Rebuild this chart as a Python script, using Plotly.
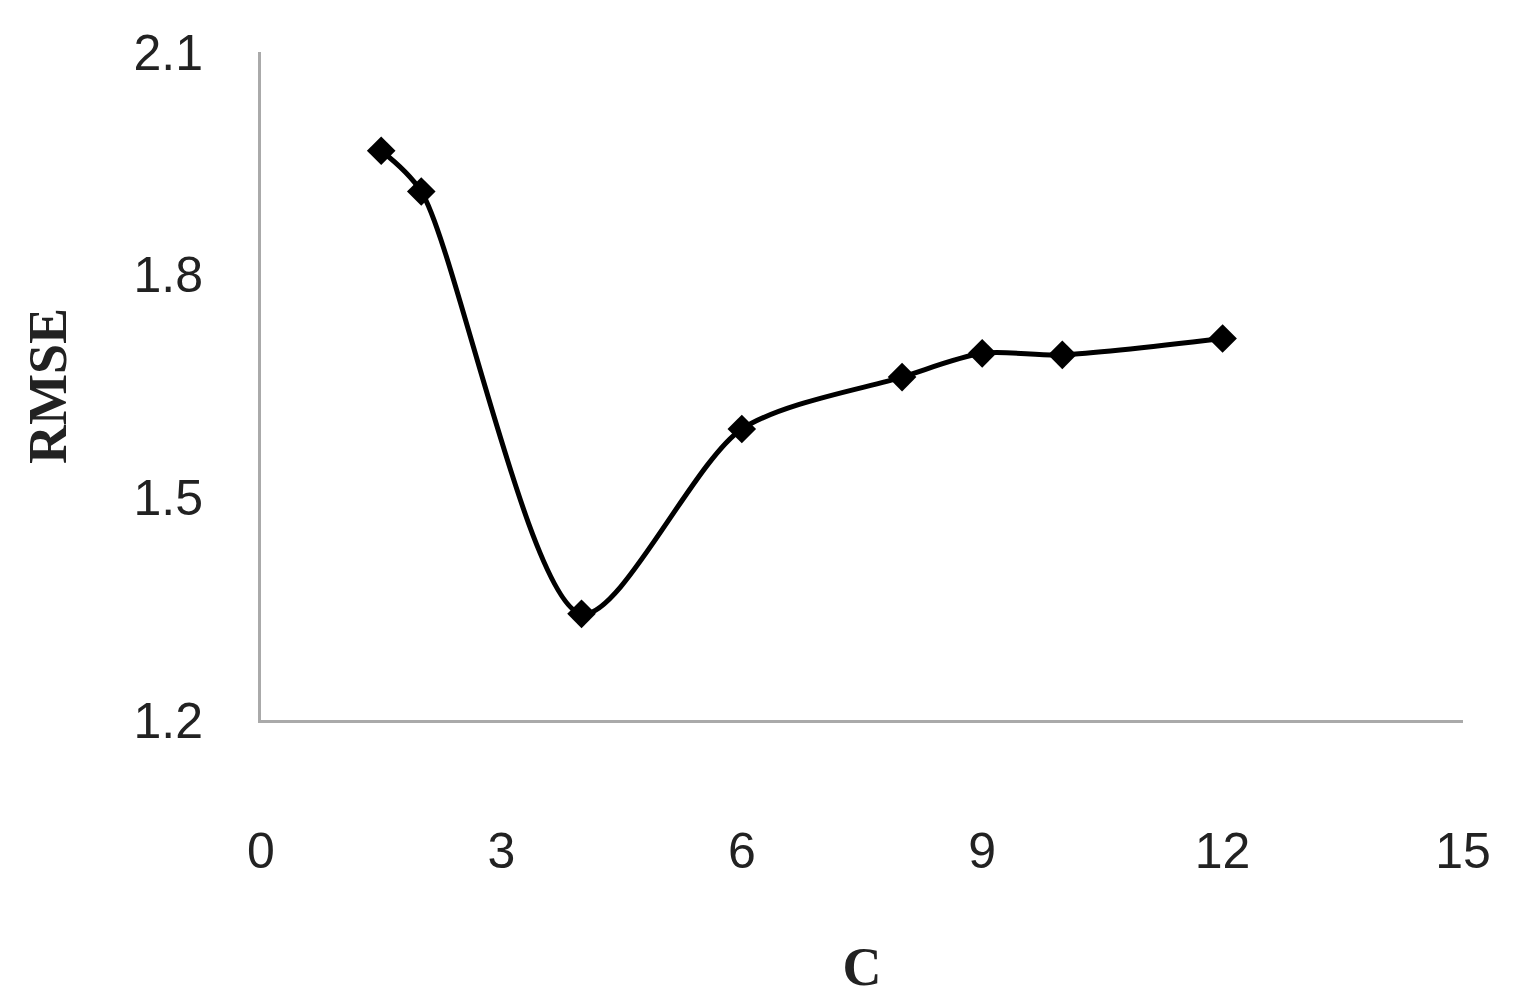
import plotly.graph_objects as go

c_values = [1.5, 2, 4, 6, 8, 9, 10, 12]
rmse_values = [1.967, 1.912, 1.343, 1.592, 1.662, 1.694, 1.692, 1.714]
x_ticks = [0, 3, 6, 9, 12, 15]
y_ticks = [1.2, 1.5, 1.8, 2.1]

fig = go.Figure(go.Scatter(
    x=c_values, y=rmse_values, mode="lines+markers",
    line=dict(color="black", width=5, shape="spline", smoothing=0.8),
    marker=dict(symbol="diamond", size=22, color="black"),
))
fig.update_layout(
    width=1518, height=1000, plot_bgcolor="white", paper_bgcolor="white",
    margin=dict(l=253, r=63, t=44, b=288), showlegend=False,
    font=dict(family="Liberation Sans, Arial", size=50, color="#222"),
)
fig.update_xaxes(range=[0, 15], tickvals=x_ticks, showgrid=False, zeroline=False,
                 showline=True, linecolor="#aaa", linewidth=3, ticks="",
                 ticklabelstandoff=85,
                 title=dict(text="<b>C</b>", font=dict(family="Liberation Serif", size=54), standoff=70))
fig.update_yaxes(range=[1.2, 2.1], tickvals=y_ticks, tickformat=".1f", showgrid=False, zeroline=False,
                 showline=True, linecolor="#aaa", linewidth=3, ticks="",
                 ticklabelstandoff=45,
                 title=dict(text="<b>RMSE</b>", font=dict(family="Liberation Serif", size=54), standoff=50))
fig.write_html("out.html")
